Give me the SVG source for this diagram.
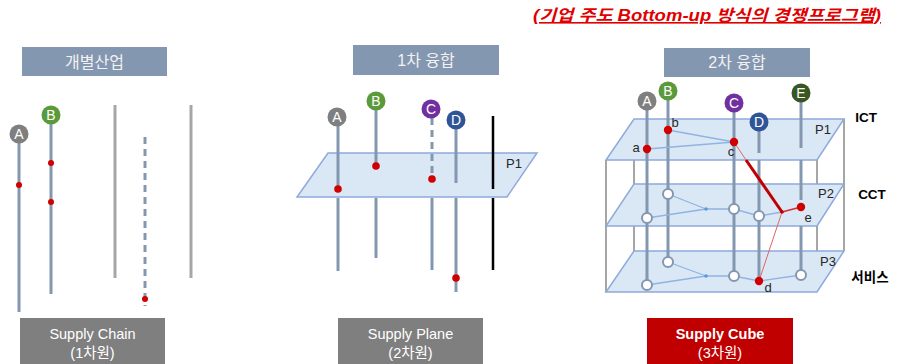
<svg xmlns="http://www.w3.org/2000/svg" width="898" height="364" viewBox="0 0 898 364">
<style>
text{font-family:"Liberation Sans","Noto Sans CJK KR",sans-serif}
.hdr{fill:#8497B0}
.hdrt{fill:#F2F2F2;font-size:16px;text-anchor:middle}
.sup{fill:#7F7F7F}
.supt{fill:#FFFFFF;font-size:14.5px;text-anchor:middle}
.vl{stroke:#8497B0;stroke-width:3;fill:none}
.gl{stroke:#A6A6A6;stroke-width:3;fill:none}
.dash{stroke:#8497B0;stroke-width:3;stroke-dasharray:7,5;fill:none}
.plane{fill:#DAE7F5;stroke:#8EA9DB;stroke-width:1.5}
.box{stroke:#A6A6A6;stroke-width:2;fill:none}
.rd{fill:#D00000}
.lbl{fill:#FFFFFF;font-size:14px;text-anchor:middle}
.sm{fill:#262626;font-size:13px;text-anchor:middle}
.ring{fill:#FFFFFF;stroke:#8497B0;stroke-width:2}
.bl{stroke:#8FB4E3;stroke-width:1.3;fill:none}
.side{fill:#000000;font-size:13.5px;font-weight:bold;text-anchor:middle}
</style>

<g id="title">
<text x="707" y="21" fill="#E00000" font-size="16" font-weight="bold" font-style="italic" text-anchor="middle" text-decoration="underline" textLength="348" lengthAdjust="spacingAndGlyphs">(기업 주도 Bottom-up 방식의 경쟁프로그램)</text>
</g>

<!-- Panel 1 -->
<g id="hdr1"><rect class="hdr" x="22" y="47" width="145" height="29"/><text class="hdrt" x="94.5" y="67.5">개별산업</text></g>
<g id="p1-lines">
<line class="vl" x1="19" y1="140" x2="19" y2="312"/>
<line class="vl" x1="51" y1="121" x2="51" y2="294"/>
<line class="gl" x1="115" y1="105" x2="115" y2="278"/>
<line class="gl" x1="191" y1="105" x2="191" y2="278"/>
<line class="dash" x1="145" y1="137" x2="145" y2="306"/>
<circle class="rd" cx="19" cy="185" r="3"/>
<circle class="rd" cx="51" cy="163" r="3"/>
<circle class="rd" cx="51" cy="202" r="3"/>
<circle class="rd" cx="145" cy="299" r="3"/>
</g>
<g id="p1-A"><circle cx="19" cy="134" r="9.5" fill="#7F7F7F"/><text class="lbl" x="19" y="139">A</text></g>
<g id="p1-B"><circle cx="51" cy="115" r="9.5" fill="#5B9A3B"/><text class="lbl" x="51" y="120">B</text></g>
<g id="sup1"><rect class="sup" x="20" y="318" width="145" height="46"/><text class="supt" x="92.5" y="339">Supply Chain</text><text class="supt" x="92.5" y="358">(1차원)</text></g>

<!-- Panel 2 -->
<g id="hdr2"><rect class="hdr" x="353" y="45" width="146" height="30"/><text class="hdrt" x="426" y="66">1차 융합</text></g>
<g id="p2-plane"><polygon class="plane" points="328,153 537,153 507,197 297,197"/><text class="sm" x="514" y="168">P1</text></g>
<g id="p2-lines">
<line class="vl" x1="338" y1="126" x2="338" y2="189"/>
<line class="vl" x1="338" y1="198" x2="338" y2="271"/>
<line class="vl" x1="376" y1="110" x2="376" y2="166"/>
<line class="vl" x1="376" y1="198" x2="376" y2="258"/>
<line class="dash" x1="432" y1="118" x2="432" y2="179"/>
<line class="vl" x1="432" y1="198" x2="432" y2="270"/>
<line class="vl" x1="456" y1="129" x2="456" y2="183"/>
<line class="vl" x1="456" y1="198" x2="456" y2="292"/>
<line stroke="#000" stroke-width="2.5" x1="493" y1="116" x2="493" y2="189"/>
<line stroke="#000" stroke-width="2.5" x1="493" y1="198" x2="493" y2="270"/>
<circle class="rd" cx="338" cy="189" r="3.8"/>
<circle class="rd" cx="376" cy="166" r="3.8"/>
<circle class="rd" cx="432" cy="179" r="3.8"/>
<circle class="rd" cx="456" cy="278" r="3.8"/>
</g>
<g id="p2-A"><circle cx="337" cy="117" r="9.5" fill="#7F7F7F"/><text class="lbl" x="337" y="122">A</text></g>
<g id="p2-B"><circle cx="376" cy="101" r="9.5" fill="#5B9A3B"/><text class="lbl" x="376" y="106">B</text></g>
<g id="p2-C"><circle cx="431" cy="109" r="9.5" fill="#7030A0"/><text class="lbl" x="431" y="114">C</text></g>
<g id="p2-D"><circle cx="456" cy="120" r="9.5" fill="#2F5597"/><text class="lbl" x="456" y="125">D</text></g>
<g id="sup2"><rect class="sup" x="338" y="318" width="145" height="46"/><text class="supt" x="410.5" y="339">Supply Plane</text><text class="supt" x="410.5" y="358">(2차원)</text></g>

<!-- Panel 3 -->
<g id="hdr3"><rect class="hdr" x="664" y="48" width="146" height="29"/><text class="hdrt" x="737" y="68">2차 융합</text></g>
<g id="cube-frame">
<line class="box" x1="606" y1="160" x2="606" y2="292"/>
<line class="box" x1="634" y1="119" x2="634" y2="251"/>
<line class="box" x1="817" y1="160" x2="817" y2="292"/>
<line class="box" x1="844" y1="119" x2="844" y2="251"/>
</g>
<g id="planes3">
<polygon class="plane" points="634,251 844,251 817,292 606,292"/>
<polygon class="plane" points="634,184 844,184 817,226 606,226"/>
<polygon class="plane" points="634,119 844,119 817,160 606,160"/>
<text class="sm" x="823" y="134">P1</text>
<text class="sm" x="826" y="198">P2</text>
<text class="sm" x="828" y="266">P3</text>
</g>
<g id="connectors">
<line class="vl" x1="647" y1="110" x2="647" y2="280"/>
<line class="vl" x1="668" y1="100" x2="668" y2="257"/>
<line class="vl" x1="734" y1="112" x2="734" y2="271"/>
<line class="vl" x1="759" y1="131" x2="759" y2="153"/>
<line class="vl" x1="759" y1="160" x2="759" y2="281"/>
<line class="vl" x1="801" y1="102" x2="801" y2="148"/>
<line class="vl" x1="801" y1="160" x2="801" y2="200"/>
<line class="vl" x1="801" y1="226" x2="801" y2="270"/>
<polyline class="bl" points="647,149 734,142 668,130"/>
<polyline class="bl" points="647,218 706,209 734,209 759,216 782,212"/>
<line class="bl" x1="668" y1="194" x2="706" y2="209"/>
<polyline class="bl" points="647,285 706,276 734,276 759,281 801,275"/>
<line class="bl" x1="668" y1="262" x2="706" y2="276"/>
<circle cx="706" cy="209" r="1.8" fill="#5B9BD5"/>
<circle cx="706" cy="276" r="1.8" fill="#5B9BD5"/>
<circle class="ring" cx="647" cy="218" r="5"/>
<circle class="ring" cx="668" cy="194" r="5"/>
<circle class="ring" cx="734" cy="209" r="5"/>
<circle class="ring" cx="759" cy="216" r="5"/>
<circle class="ring" cx="647" cy="285" r="5"/>
<circle class="ring" cx="668" cy="262" r="5"/>
<circle class="ring" cx="734" cy="276" r="5"/>
<circle class="ring" cx="801" cy="275" r="5"/>
<line x1="734" y1="142" x2="746" y2="160" stroke="#E06666" stroke-width="1"/>
<line x1="746" y1="160" x2="782" y2="212" stroke="#C00000" stroke-width="3"/>
<line x1="782" y1="212" x2="801" y2="207" stroke="#D03030" stroke-width="1.8"/>
<line x1="782" y1="212" x2="759" y2="281" stroke="#E06666" stroke-width="1"/>
<circle cx="782" cy="212" r="1.8" fill="#C00000"/>
<circle class="rd" cx="647" cy="149" r="4.2"/>
<circle class="rd" cx="668" cy="130" r="4.2"/>
<circle class="rd" cx="734" cy="142" r="4.2"/>
<circle class="rd" cx="801" cy="207" r="4.2"/>
<circle class="rd" cx="759" cy="281" r="4.2"/>
<text class="sm" x="636" y="152">a</text>
<text class="sm" x="675" y="127">b</text>
<text class="sm" x="731" y="156">c</text>
<text class="sm" x="768" y="292">d</text>
<text class="sm" x="808" y="222">e</text>
</g>
<g id="p3-A"><circle cx="647" cy="101" r="9.5" fill="#7F7F7F"/><text class="lbl" x="647" y="106">A</text></g>
<g id="p3-B"><circle cx="668" cy="91" r="9.5" fill="#5B9A3B"/><text class="lbl" x="668" y="96">B</text></g>
<g id="p3-C"><circle cx="734" cy="103" r="9.5" fill="#7030A0"/><text class="lbl" x="734" y="108">C</text></g>
<g id="p3-D"><circle cx="759" cy="122" r="9.5" fill="#2F5597"/><text class="lbl" x="759" y="127">D</text></g>
<g id="p3-E"><circle cx="801" cy="93" r="9.5" fill="#385723"/><text class="lbl" x="801" y="98">E</text></g>
<g id="side-labels">
<text class="side" x="866" y="122">ICT</text>
<text class="side" x="872" y="199">CCT</text>
<text class="side" x="870" y="282" font-size="15">서비스</text>
</g>
<g id="sup3"><rect x="647" y="318" width="146" height="46" fill="#C00000"/><text class="supt" x="720" y="339" font-weight="bold">Supply Cube</text><text class="supt" x="720" y="358">(3차원)</text></g>
</svg>
